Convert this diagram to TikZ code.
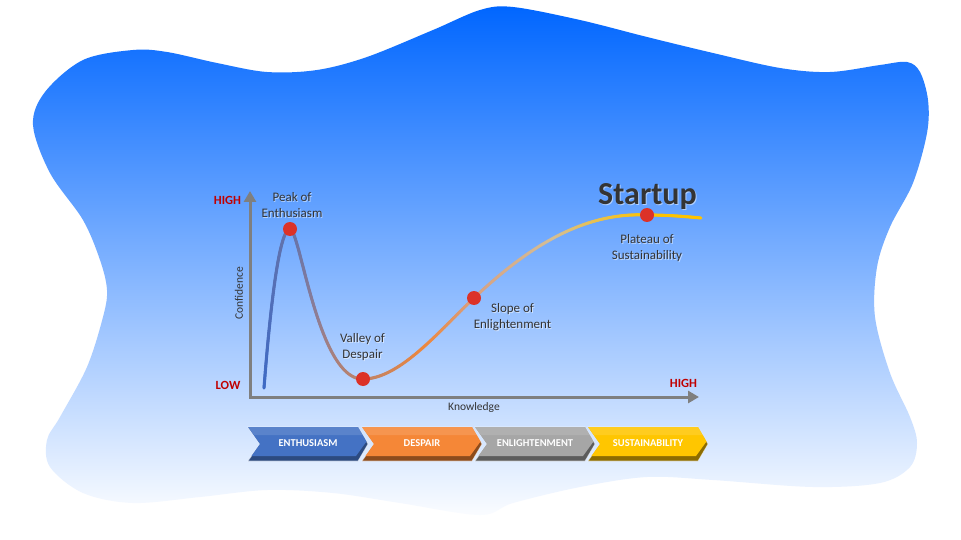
\documentclass[tikz,border=0pt]{standalone}
\usepackage{fontspec}
\setmainfont{Carlito}
\usetikzlibrary{arrows.meta,decorations.markings}
\definecolor{blobtop}{RGB}{0,102,255}
\definecolor{blobmid}{RGB}{110,168,250}
\definecolor{blobbot}{RGB}{250,252,255}
\definecolor{cS}{RGB}{62,106,196}
\definecolor{cSP}{RGB}{80,110,185}
\definecolor{cP}{RGB}{100,115,170}
\definecolor{cPV}{RGB}{140,125,150}
\definecolor{cV}{RGB}{190,130,105}
\definecolor{cOr}{RGB}{238,135,60}
\definecolor{cL}{RGB}{215,160,130}
\definecolor{cB}{RGB}{212,190,150}
\definecolor{cT}{RGB}{255,195,0}
\definecolor{dotred}{RGB}{220,50,40}
\definecolor{txt}{RGB}{52,52,52}
\definecolor{hired}{RGB}{192,0,0}
\definecolor{axgray}{RGB}{127,127,127}
\definecolor{fBlue}{RGB}{68,114,196}
\definecolor{dBlue}{RGB}{44,74,128}
\definecolor{fOrange}{RGB}{245,135,55}
\definecolor{dOrange}{RGB}{140,75,28}
\definecolor{fGray}{RGB}{166,166,166}
\definecolor{dGray}{RGB}{92,92,92}
\definecolor{fYellow}{RGB}{255,198,0}
\definecolor{dYellow}{RGB}{140,108,0}
\tikzset{
  gradseg/.style n args={3}{
    postaction={decorate,decoration={markings,
      mark=between positions 0 and 1 step 0.5pt with {%
        \pgfmathsetmacro\gr{\pgfkeysvalueof{/pgf/decoration/mark info/distance from start}/\pgfdecoratedpathlength}%
        \pgfmathtruncatemacro\ga{min(100,200*\gr)}%
        \pgfmathtruncatemacro\gb{max(0,min(100,200*\gr-100))}%
        \ifnum\gb>0 \fill[#3!\gb!#2] (0,0) circle (1.6pt);%
        \else \fill[#2!\ga!#1] (0,0) circle (1.6pt);\fi
      }}}
  },
  dotnode/.style={circle,fill=dotred,inner sep=0pt,minimum size=14pt},
  lbl/.style={align=center,text=txt,font=\fontsize{13}{16}\selectfont},
  lblglow/.style={align=center,text=white,text opacity=0.55,font=\fontsize{13}{16}\selectfont},
  hilo/.style={text=hired,font=\fontsize{12.5}{14}\selectfont\bfseries,inner sep=0pt},
  axlbl/.style={text=txt,font=\fontsize{11.5}{14}\selectfont,inner sep=0pt},
  axisline/.style={draw=axgray,line width=3pt,line join=miter,
    arrows={Triangle[width=12pt,length=11pt]-Triangle[width=12pt,length=11pt]}},
  chevtxt/.style={text=white,font=\fontsize{10.5}{12}\selectfont\bfseries,inner sep=0pt}
}
\newcommand\chevr[4]{%
  \fill[#3,draw=white,draw opacity=0.6,line width=0.7pt] (#1,427) -- ({#1+110},427) -- ({#1+120},444) -- ({#1+110},461) -- (#1,461) -- ({#1+12},444) -- cycle;
  \fill[#2] (#1,427) -- ({#1+110},427) -- ({#1+118.5},441.5) -- ({#1+108},456) -- ({#1+3.5},456) -- ({#1+12},444) -- cycle;
  \fill[white,opacity=0.12] (#1,427) -- ({#1+110},427) -- ({#1+115},435) -- ({#1+6},435) -- cycle;
  \node[chevtxt] (#4) at ({#1+60},443) {\MakeUppercase{#4}};
}
\newcommand\glowlabel[3]{%
  \node[lblglow] at ($(#2)+(0.9,0.9)$) {#3};
  \node[lbl] (#1) at (#2) {#3};
}
\usetikzlibrary{calc}
\begin{document}
\begin{tikzpicture}[x=1pt,y=-1pt]
\useasboundingbox (0,0) rectangle (961,540);
\fill[white] (0,0) rectangle (961,540);
% background blob
\shade[top color=blobtop,middle color=blobmid,bottom color=blobbot]
  plot[smooth cycle,tension=0.55] coordinates {
  (33,125) (45,92) (83,60) (133,50) (167,52) (217,63) (267,72) (317,70) (367,57)
  (433,30) (480,10) (513,7) (580,20) (647,37) (713,53) (780,68) (830,72) (880,65)
  (907,62) (920,72) (928,100) (927,133) (913,183) (890,227) (877,267) (875,317)
  (890,373) (910,417) (917,443) (910,467) (880,483) (813,487) (713,480) (647,477)
  (580,487) (513,503) (480,515) (400,503) (333,493) (267,490) (200,497) (133,503)
  (83,493) (50,467) (47,440) (60,417) (87,367) (103,317) (107,290) (100,260)
  (83,220) (50,173)};
% axes
\coordinate (Yt) at (250,191);
\coordinate (Xt) at (699,397);
\draw[axisline] (Yt) |- (Xt);
\node[hilo,anchor=base] (yhigh) at (227.5,205) {HIGH};
\node[hilo,anchor=base] (ylow) at (228,389) {LOW};
\node[hilo,anchor=base] (xhigh) at (683.5,387) {HIGH};
\node[axlbl,rotate=90] (conf) at (239,293) {Confidence};
\node[axlbl] (know) at (474,407) {Knowledge};
% curve
\coordinate (S) at (264,388);
\coordinate (P) at (290,229);
\coordinate (V) at (363,379);
\coordinate (L) at (474,298);
\coordinate (T) at (647,215);
\coordinate (E) at (701,218);
\path[gradseg={cS}{cSP}{cP}] (S) .. controls (270,310) and (279,229) .. (P);
\path[gradseg={cP}{cPV}{cV}] (P) .. controls (300,229) and (318,380) .. (V);
\path[gradseg={cV}{cOr}{cL}] (V) .. controls (400,379) and (440,330) .. (L);
\path[gradseg={cL}{cB}{cT}] (L) .. controls (530,245) and (585,212) .. (T);
\path[gradseg={cT}{cT}{cT}] (T) .. controls (670,215) and (690,217) .. (E);
\node[dotnode] (dP) at (P) {};
\node[dotnode] (dV) at (V) {};
\node[dotnode] (dL) at (L) {};
\node[dotnode] (dT) at (T) {};
% labels
\coordinate (pP) at (292,204.7);
\coordinate (pV) at (362.5,346.7);
\coordinate (pL) at (512.5,317.2);
\coordinate (pT) at (647,247.7);
\glowlabel{lP}{pP}{Peak of\\Enthusiasm}
\glowlabel{lV}{pV}{Valley of\\Despair}
\glowlabel{lL}{pL}{Slope of\\Enlightenment}
\glowlabel{lT}{pT}{Plateau of\\Sustainability}
\node[text=white,text opacity=0.5,font=\fontsize{32}{36}\selectfont\bfseries,anchor=base,inner sep=0pt] at (648.5,206) {Startup};
\node[text=txt,font=\fontsize{32}{36}\selectfont\bfseries,anchor=base,inner sep=0pt] (startup) at (647.5,205) {Startup};
% chevrons
\chevr{248}{fBlue}{dBlue}{Enthusiasm}
\chevr{362}{fOrange}{dOrange}{Despair}
\chevr{475}{fGray}{dGray}{Enlightenment}
\chevr{588}{fYellow}{dYellow}{Sustainability}
\end{tikzpicture}
\end{document}
